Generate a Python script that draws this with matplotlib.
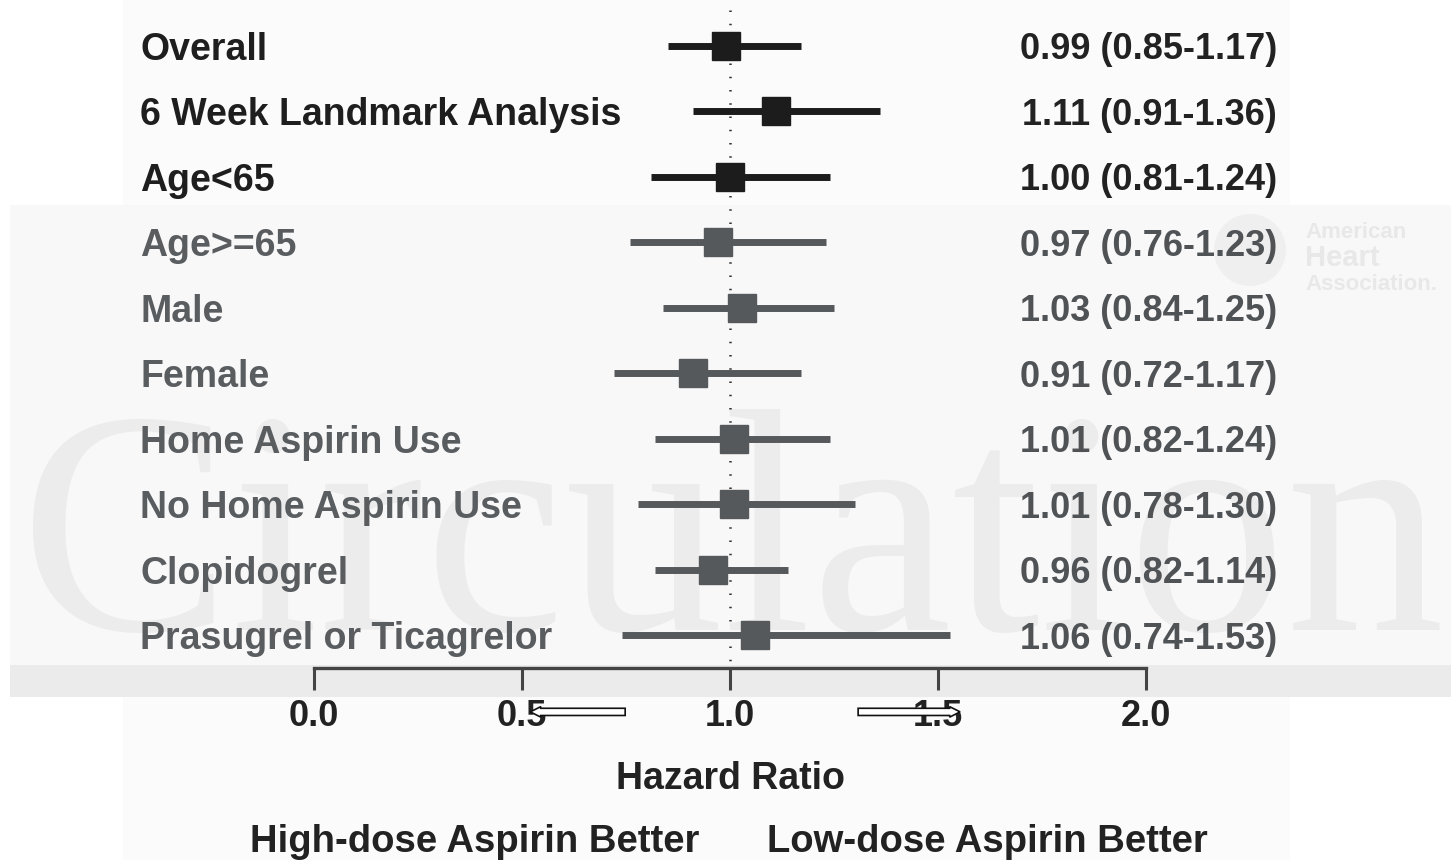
import matplotlib
matplotlib.use('Agg')
import matplotlib.pyplot as plt
from matplotlib.patches import Rectangle, FancyArrow, Ellipse

# forest plot data
labels = ['Overall', '6 Week Landmark Analysis', 'Age<65', 'Age>=65', 'Male', 'Female',
          'Home Aspirin Use', 'No Home Aspirin Use', 'Clopidogrel', 'Prasugrel or Ticagrelor']
hr = [0.99, 1.11, 1.00, 0.97, 1.03, 0.91, 1.01, 1.01, 0.96, 1.06]
lo = [0.85, 0.91, 0.81, 0.76, 0.84, 0.72, 0.82, 0.78, 0.82, 0.74]
hi = [1.17, 1.36, 1.24, 1.23, 1.25, 1.17, 1.24, 1.30, 1.14, 1.53]
n_dark = 3  # first rows drawn in black
xticks = [0.0, 0.5, 1.0, 1.5, 2.0]

W, H = 1451, 860
fig = plt.figure(figsize=(W / 100, H / 100), dpi=100)
fig.patch.set_facecolor('white')

# background layers (paper, watermark overlay, grey band)
def px_rect(x0, y0, x1, y1, color):
    fig.add_artist(Rectangle((x0 / W, 1 - y1 / H), (x1 - x0) / W, (y1 - y0) / H,
                             transform=fig.transFigure, color=color, lw=0, zorder=-20))

px_rect(123, 0, 1290, 860, '#fbfbfb')
px_rect(10, 205, 1451, 665, '#f8f8f8')
px_rect(10, 665, 1451, 697, '#ebebeb')

# watermark
fig.text(20 / W, 1 - 630 / H, 'Circulation', family='Liberation Serif', fontsize=228,
         color='#ececec', va='baseline', ha='left', zorder=-15)
fig.add_artist(Ellipse((1250 / W, 1 - 250 / H), 72 / W, 72 / H, transform=fig.transFigure,
                       color='#efefef', lw=0, zorder=-15))
fig.text(1305 / W, 1 - 238 / H, 'American', family='Liberation Sans', fontsize=16,
         color='#e8e8e8', weight='bold', zorder=-15)
fig.text(1305 / W, 1 - 266 / H, 'Heart', family='Liberation Sans', fontsize=21,
         color='#e8e8e8', weight='bold', zorder=-15)
fig.text(1305 / W, 1 - 290 / H, 'Association.', family='Liberation Sans', fontsize=16,
         color='#e8e8e8', weight='bold', zorder=-15)

# main axes: x from 0 to 2 spans pixels 314..1146, rows 46 + 65.5*i
x0px, x1px = 314, 1146
ax = fig.add_axes([x0px / W, 1 - 668 / H, (x1px - x0px) / W, 668 / H])
ax.set_facecolor('none')
ax.set_xlim(0, 2)
ax.set_ylim(9.5, -0.7)

dark, grey = '#1c1c1c', '#55595c'
ax.plot([1, 1], [-0.55, 9.5], color='#333333', lw=1.8, linestyle=(0, (0.6, 4.7)), zorder=1)

for i in range(len(labels)):
    c = dark if i < n_dark else grey
    ax.plot([lo[i], hi[i]], [i, i], color=c, lw=5, solid_capstyle='butt', zorder=2)
    ax.plot(hr[i], i, marker='s', color=c, markersize=20, zorder=3)
    tc = '#1e1e1e' if i < n_dark else '#5a5d60'
    ax.text(-0.418, i, labels[i], ha='left', va='center_baseline', fontsize=27, weight='bold',
            color=tc, family='Liberation Sans', clip_on=False)
    ax.text(2.315, i, f'{hr[i]:.2f} ({lo[i]:.2f}-{hi[i]:.2f})', ha='right',
            va='center_baseline', fontsize=26, weight='bold',
            color=('#222222' if i < n_dark else '#505356'),
            family='Liberation Sans', clip_on=False)

for s in ['top', 'left', 'right']:
    ax.spines[s].set_visible(False)
ax.spines['bottom'].set_color('#444444')
ax.spines['bottom'].set_linewidth(2.4)
ax.set_yticks([])
ax.set_xticks(xticks)
ax.set_xticklabels([f'{t:.1f}' for t in xticks])
ax.tick_params(axis='x', direction='out', length=16, width=2.2, color='#444444', pad=6,
               labelsize=26, labelcolor='#222222')
for lab in ax.get_xticklabels():
    lab.set_fontweight('bold')
    lab.set_family('Liberation Sans')

ax.set_xlabel('Hazard Ratio', fontsize=27, weight='bold', color='#222222',
              family='Liberation Sans', labelpad=20)

# direction arrows
ax.add_patch(FancyArrow(0.748, 10.17, -0.228, 0, width=0.11, head_width=0.16,
                        head_length=0.025, length_includes_head=True, facecolor='white',
                        edgecolor='#111111', lw=1.2, clip_on=False, zorder=5))
ax.add_patch(FancyArrow(1.308, 10.17, 0.245, 0, width=0.11, head_width=0.16,
                        head_length=0.025, length_includes_head=True, facecolor='white',
                        edgecolor='#111111', lw=1.2, clip_on=False, zorder=5))

fig.text(475 / W, 1 - 838 / H, 'High-dose Aspirin Better', ha='center', va='center_baseline',
         fontsize=27.5, weight='bold', color='#222222', family='Liberation Sans')
fig.text(987 / W, 1 - 838 / H, 'Low-dose Aspirin Better', ha='center', va='center_baseline',
         fontsize=27.5, weight='bold', color='#222222', family='Liberation Sans')

fig.savefig('out.png', dpi=100)
